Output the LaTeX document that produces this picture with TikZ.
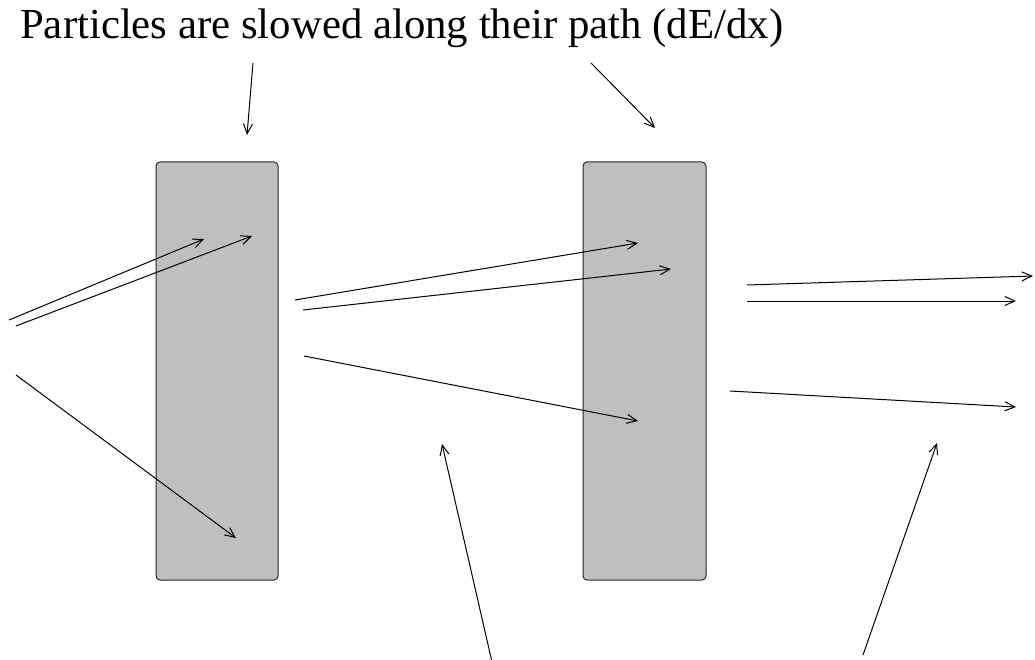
\documentclass[tikz,border=0pt]{standalone}
\usepackage{fontspec}
\setmainfont{Liberation Serif}
\usetikzlibrary{arrows.meta}
\begin{document}
\begin{tikzpicture}[x=1pt,y=-1pt,
  slab/.style={draw=black!85,fill=black!25,line width=1pt,rounded corners=4pt},
  track/.style={line width=1pt,-{Straight Barb[length=10pt,width=9pt,line width=1pt]}}]
\useasboundingbox (0,0) rectangle (1035,660);
% absorber slabs
\draw[slab] (156,162) rectangle (278,580);
\draw[slab] (583,162) rectangle (706,580);
\node[anchor=base west,inner sep=0pt,font=\fontsize{42.8}{48}\selectfont] (title) at (20,39)
  {Particles are slowed along their path (dE/dx)};
% pointers from the title
\coordinate (p1s) at (253,63); \coordinate (p1e) at (247,135);
\coordinate (p2s) at (591,63); \coordinate (p2e) at (655,128);
\draw[track] (p1s) -- (p1e);
\draw[track] (p2s) -- (p2e);
% incoming tracks
\coordinate (a1s) at (9,320);  \coordinate (a1e) at (204,239);
\coordinate (a2s) at (16,326); \coordinate (a2e) at (252,236);
\coordinate (a3s) at (16,375); \coordinate (a3e) at (236,538);
\draw[track] (a1s) -- (a1e);
\draw[track] (a2s) -- (a2e);
\draw[track] (a3s) -- (a3e);
% tracks between the slabs
\coordinate (b1s) at (295,300); \coordinate (b1e) at (638,243);
\coordinate (b2s) at (303,310); \coordinate (b2e) at (671,269);
\coordinate (b3s) at (304,356); \coordinate (b3e) at (638,421);
\draw[track] (b1s) -- (b1e);
\draw[track] (b2s) -- (b2e);
\draw[track] (b3s) -- (b3e);
% outgoing tracks
\coordinate (c1s) at (747,285); \coordinate (c1e) at (1033,276);
\coordinate (c2s) at (747,301); \coordinate (c2e) at (1016,301);
\coordinate (c3s) at (730,391); \coordinate (c3e) at (1016,407);
\draw[track] (c1s) -- (c1e);
\draw[track] (c2s) -- (c2e);
\draw[track] (c3s) -- (c3e);
% pointers from below
\coordinate (d1s) at (492,662); \coordinate (d1e) at (442,444);
\coordinate (d2s) at (863,655); \coordinate (d2e) at (937,443);
\draw[track] (d1s) -- (d1e);
\draw[track] (d2s) -- (d2e);
\end{tikzpicture}
\end{document}
